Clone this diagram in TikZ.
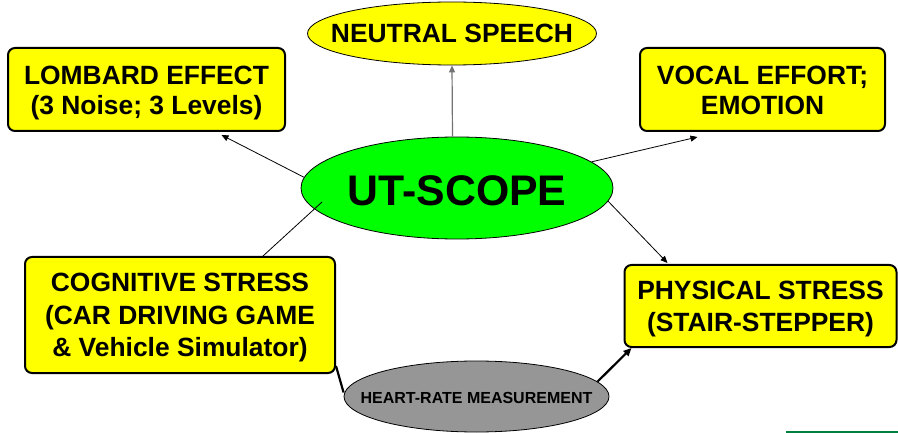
\documentclass[tikz,border=0pt]{standalone}
\usepackage{fontspec}
\setmainfont{Liberation Sans}
\usetikzlibrary{shapes.geometric,arrows.meta}
\definecolor{boxyellow}{HTML}{FFFF00}
\definecolor{hubgreen}{HTML}{00FF00}
\definecolor{hrgray}{HTML}{969696}
\definecolor{rulegreen}{HTML}{007F3F}
% invisible strut that lowers the text block inside a box
\newcommand{\lowerby}[1]{\rule{0pt}{#1}}
\tikzset{
  topicbox/.style={draw=black, line width=2pt, fill=boxyellow, rounded corners=7pt,
    inner sep=0pt, align=center, font=\fontsize{26.4}{30}\selectfont\bfseries},
  oval/.style={ellipse, draw=black, line width=0.8pt, inner sep=0pt},
  thinarrow/.style={draw=black, line width=0.8pt, -{Triangle[length=7pt,width=6pt]}},
  thinline/.style={draw=black, line width=0.8pt},
  thickline/.style={draw=black, line width=2.2pt},
}
\begin{document}
\begin{tikzpicture}[x=1pt, y=-1pt]
\useasboundingbox (0,0) rectangle (898,433);

% topic boxes
\node[topicbox, minimum width=277pt, minimum height=83pt] (lombard) at (146.5,89.5)
  {\lowerby{26.4pt}LOMBARD EFFECT\\(3 Noise; 3 Levels)};
\node[topicbox, minimum width=245pt, minimum height=83pt] (vocal) at (762.5,89.5)
  {\lowerby{21pt}VOCAL EFFORT;\\EMOTION};
\node[topicbox, minimum width=310pt, minimum height=116pt,
  font=\fontsize{26.4}{32.5}\selectfont\bfseries] (cognitive) at (180,315)
  {\lowerby{24pt}COGNITIVE STRESS\\(CAR DRIVING GAME\\\& Vehicle Simulator)};
\node[topicbox, minimum width=272pt, minimum height=82pt,
  font=\fontsize{26.4}{31.7}\selectfont\bfseries] (physical) at (760.5,306)
  {\lowerby{25pt}PHYSICAL STRESS\\(STAIR-STEPPER)};

% ellipses (outline drawn at a fixed size, caption set on top)
\node[oval, fill=boxyellow, minimum width=289pt, minimum height=63pt] (neutral) at (452,33.5) {};
\node[font=\fontsize{26.4}{31}\selectfont\bfseries] at (neutral.center) {NEUTRAL SPEECH};
\node[oval, fill=hubgreen, minimum width=312pt, minimum height=102pt] (hub) at (457,188) {};
\node[font=\fontsize{42.8}{48}\selectfont\bfseries, yshift=-3pt] at (hub.center) {UT-SCOPE};
\node[oval, fill=hrgray, minimum width=265pt, minimum height=71pt] (heart) at (476.5,396.5) {};
\node[font=\fontsize{16}{18}\selectfont\bfseries, yshift=-1pt] at (heart.center) {HEART-RATE MEASUREMENT};

% connectors from the hub
\draw[thinarrow, draw=black!55, line width=1.2pt] ([xshift=-4.5pt]hub.north) -- (neutral.south);
\draw[thinarrow] (hub.176) -- ([xshift=75pt,yshift=-3pt]lombard.south);
\draw[thinarrow] (hub.11) -- ([xshift=-65pt,yshift=-5pt]vocal.south);
\draw[thinline] ([shift={(-135,14)}]hub.center) -- ([xshift=83pt]cognitive.north);
\draw[thinarrow] (hub.-5) -- ([xshift=-93pt,yshift=1pt]physical.north);

% heart-rate links
\draw[thickline] ([yshift=8pt]cognitive.south east) -- ([yshift=4pt]heart.west);
\draw[thickline, -{Triangle[length=8pt,width=7pt]}] (heart.7) -- ([xshift=8pt]physical.south west);

% rule at the lower right
\draw[rulegreen, line width=2pt] (786,432) -- (898,432);
\end{tikzpicture}
\end{document}
